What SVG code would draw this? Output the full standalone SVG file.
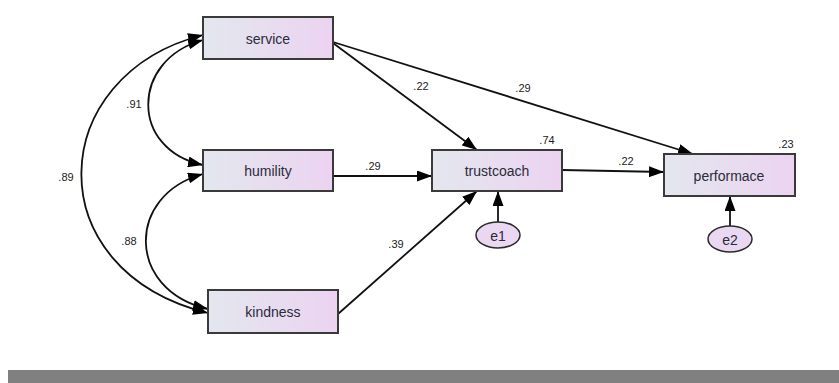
<svg xmlns="http://www.w3.org/2000/svg" width="839" height="383" viewBox="0 0 839 383">
<style>
.box{fill:url(#g);stroke:#3a3a3a;stroke-width:2}
.err{fill:#ead8f2;stroke:#2a2a2a;stroke-width:1.5}
.lbl{font-family:"Liberation Sans",Arial,sans-serif;font-size:14px;fill:#2b2b3a;text-anchor:middle;dominant-baseline:central}
.num{font-family:"Liberation Sans",Arial,sans-serif;font-size:11px;fill:#222;text-anchor:middle}
.c{fill:none;stroke:#111;stroke-width:1.8}
</style>
<defs>
<linearGradient id="g" x1="0" y1="0" x2="1" y2="0">
<stop offset="0" stop-color="#e3e7ee"/>
<stop offset="1" stop-color="#ecd3f1"/>
</linearGradient>
<marker id="a" viewBox="0 0 15 11" refX="15" refY="5.5" markerWidth="15" markerHeight="11" markerUnits="userSpaceOnUse" orient="auto-start-reverse">
<path d="M0,0 L15,5.5 L0,11 Z" fill="#000"/>
</marker>
</defs>
<rect x="8" y="370" width="831" height="13" fill="#808080"/>
<g id="connectors">
<path class="c" d="M203,40 C130,60 130,150 203,165" marker-start="url(#a)" marker-end="url(#a)"/>
<path class="c" d="M203,35 C45,75 35,270 208,313" marker-start="url(#a)" marker-end="url(#a)"/>
<path class="c" d="M203,174 C126,195 126,290 208,309" marker-start="url(#a)" marker-end="url(#a)"/>
<line class="c" x1="333" y1="43" x2="477" y2="150" marker-end="url(#a)"/>
<line class="c" x1="333" y1="42" x2="693" y2="154" marker-end="url(#a)"/>
<line class="c" x1="333" y1="176" x2="432" y2="176" marker-end="url(#a)"/>
<line class="c" x1="338" y1="314" x2="477" y2="191" marker-end="url(#a)"/>
<line class="c" x1="498" y1="222" x2="498" y2="191" marker-end="url(#a)"/>
<line class="c" x1="562" y1="170" x2="664" y2="172" marker-end="url(#a)"/>
<line class="c" x1="730" y1="226" x2="730" y2="196" marker-end="url(#a)"/>
</g>
<g id="labels">
<text class="num" x="134" y="108">.91</text>
<text class="num" x="66" y="181">.89</text>
<text class="num" x="129" y="245">.88</text>
<text class="num" x="421" y="90">.22</text>
<text class="num" x="523" y="92">.29</text>
<text class="num" x="373" y="170">.29</text>
<text class="num" x="396" y="248">.39</text>
<text class="num" x="626" y="165">.22</text>
<text class="num" x="547" y="144">.74</text>
<text class="num" x="786" y="148">.23</text>
</g>
<g id="service"><rect class="box" x="203" y="17" width="130" height="42"/><text class="lbl" x="268" y="39">service</text></g>
<g id="humility"><rect class="box" x="203" y="150" width="130" height="41"/><text class="lbl" x="268" y="171">humility</text></g>
<g id="kindness"><rect class="box" x="208" y="290" width="130" height="43"/><text class="lbl" x="273" y="312">kindness</text></g>
<g id="trustcoach"><rect class="box" x="432" y="150" width="130" height="41"/><text class="lbl" x="497" y="171">trustcoach</text></g>
<g id="performace"><rect class="box" x="664" y="154" width="131" height="42"/><text class="lbl" x="729" y="176">performace</text></g>
<g id="e1"><ellipse class="err" cx="498" cy="235" rx="22" ry="13"/><text class="lbl" x="498" y="236">e1</text></g>
<g id="e2"><ellipse class="err" cx="730" cy="239" rx="22" ry="13"/><text class="lbl" x="730" y="240">e2</text></g>
</svg>
